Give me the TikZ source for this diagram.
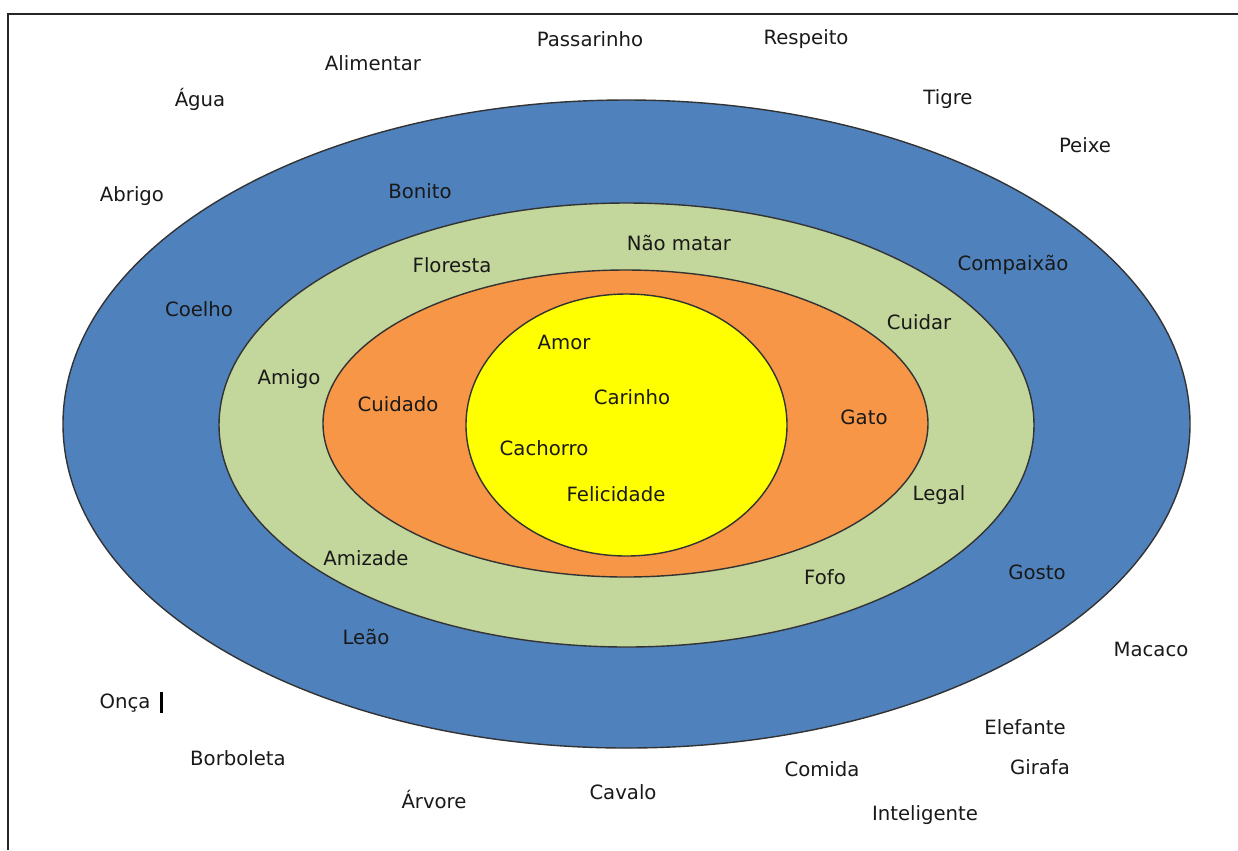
\documentclass[tikz,border=0pt]{standalone}
\usepackage{fontspec}
\setmainfont{DejaVu Sans}
\usepackage{tikz}
\definecolor{ringblue}{RGB}{79,129,189}
\definecolor{ringgreen}{RGB}{195,214,155}
\definecolor{ringorange}{RGB}{247,150,70}
\definecolor{ringyellow}{RGB}{255,255,0}
\newcommand{\cx}{626.5}
\newcommand{\cy}{424}
\tikzset{
  ring/.style  ={draw=black!80,line width=0.8pt},
  wlab/.style  ={inner sep=1pt,font=\fontsize{11.2}{13}\selectfont,text=black!90},
  frameline/.style={line width=1.2pt,black!85},
}
\begin{document}
\begin{tikzpicture}[x=0.02cm,y=-0.02cm]
  \useasboundingbox (0,0) rectangle (1238,850);
  \draw[frameline] (8,850) -- (8,14) -- (1238,14);
  % rings, outside in
  \draw[ring,fill=ringblue]   (\cx,\cy) ellipse [x radius=563.5,y radius=324];
  \draw[ring,fill=ringgreen]  (\cx,425) ellipse [x radius=407.5,y radius=222];
  \draw[ring,fill=ringorange] (625.5,423.5) ellipse [x radius=302.5,y radius=153.5];
  \draw[ring,fill=ringyellow] (\cx,425) ellipse [x radius=160.5,y radius=131];
  % words outside the rings
  \node[wlab] (passarinho) at (590,39)  {Passarinho};
  \node[wlab] (respeito)   at (806,39)  {Respeito};
  \node[wlab] (alimentar)  at (373,63)  {Alimentar};
  \node[wlab] (agua)       at (200,99)  {Água};
  \node[wlab] (tigre)      at (948,99)  {Tigre};
  \node[wlab] (peixe)      at (1085,145) {Peixe};
  \node[wlab] (abrigo)     at (132,196) {Abrigo};
  \node[wlab] (macaco)     at (1151,649) {Macaco};
  \node[wlab] (onca)       at (125,703) {Onça};
  \node[wlab] (elefante)   at (1025,727) {Elefante};
  \node[wlab] (borboleta)  at (238,758) {Borboleta};
  \node[wlab] (girafa)     at (1040,767) {Girafa};
  \node[wlab] (comida)     at (822,769) {Comida};
  \node[wlab] (cavalo)     at (623,792) {Cavalo};
  \node[wlab] (arvore)     at (434,800) {Árvore};
  \node[wlab] (inteligente) at (925,815) {Inteligente};
  \fill[black] (159.5,692) rectangle (162.5,713);
  % blue ring
  \node[wlab] (bonito)     at (420,191) {Bonito};
  \node[wlab] (compaixao)  at (1013,265) {Compaixão};
  \node[wlab] (coelho)     at (199,309) {Coelho};
  \node[wlab] (gosto)      at (1037,572) {Gosto};
  \node[wlab] (leao)       at (366,637) {Leão};
  % green ring
  \node[wlab] (naomatar)   at (679,243) {Não matar};
  \node[wlab] (floresta)   at (452,265) {Floresta};
  \node[wlab] (cuidar)     at (919,322) {Cuidar};
  \node[wlab] (amigo)      at (289,379) {Amigo};
  \node[wlab] (legal)      at (939,495) {Legal};
  \node[wlab] (amizade)    at (366,558) {Amizade};
  \node[wlab] (fofo)       at (825,577) {Fofo};
  % orange ring
  \node[wlab] (cuidado)    at (398,404) {Cuidado};
  \node[wlab] (gato)       at (864,417) {Gato};
  % yellow core
  \node[wlab] (amor)       at (564,342) {Amor};
  \node[wlab] (carinho)    at (632,397) {Carinho};
  \node[wlab] (cachorro)   at (544,448) {Cachorro};
  \node[wlab] (felicidade) at (616,494) {Felicidade};
\end{tikzpicture}
\end{document}
